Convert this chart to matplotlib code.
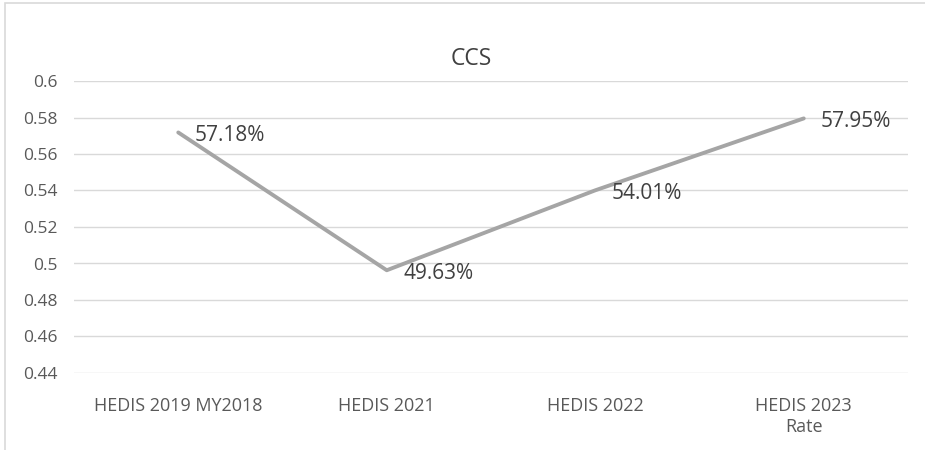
import matplotlib
matplotlib.use("Agg")
import matplotlib.pyplot as plt
from matplotlib.patches import Rectangle

categories = ["HEDIS 2019 MY2018", "HEDIS 2021", "HEDIS 2022", "HEDIS 2023\nRate"]
rates = [0.5718, 0.4963, 0.5401, 0.5795]
labels = ["57.18%", "49.63%", "54.01%", "57.95%"]
yticks = [0.44, 0.46, 0.48, 0.5, 0.52, 0.54, 0.56, 0.58, 0.6]
ytick_labels = ["0.44", "0.46", "0.48", "0.5", "0.52", "0.54", "0.56", "0.58", "0.6"]

plt.rcParams['font.family'] = ['Open Sans', 'DejaVu Sans']
txt = '#595959'

fig = plt.figure(figsize=(9.25, 4.5), dpi=100)
fig.patches.append(Rectangle((5/925, -0.1), 1.2, 1.1 - 3/450, transform=fig.transFigure,
                             fill=False, edgecolor='#D9D9D9', linewidth=1.2))
ax = fig.add_axes([74/925, 1 - 373/450, 834/925, 292/450])

x = range(len(categories))
ax.plot(x, rates, color='#A5A5A5', linewidth=2.8, solid_capstyle='round')
for xi, yi, lab in zip(x, rates, labels):
    ax.annotate(lab, (xi, yi), xytext=(12, -2), textcoords='offset points',
                ha='left', va='center', fontsize=15, color='#404040')

ax.set_xlim(-0.5, len(categories) - 0.5)
ax.set_ylim(0.44, 0.6)
ax.set_yticks(yticks)
ax.set_yticklabels(ytick_labels)
ax.set_xticks(list(x))
ax.set_xticklabels(categories, linespacing=1.25)
ax.tick_params(axis='y', length=0, pad=12, labelsize=12.5, labelcolor=txt)
ax.tick_params(axis='x', length=0, pad=17, labelsize=13, labelcolor=txt)
ax.grid(axis='y', color='#D9D9D9', linewidth=1)
ax.set_axisbelow(True)
for s in ax.spines.values():
    s.set_visible(False)
fig.text(471/925, 1 - 65/450, "CCS", ha='center', va='baseline', fontsize=16.5, color='#404040')

fig.savefig("out.png", dpi=100)
